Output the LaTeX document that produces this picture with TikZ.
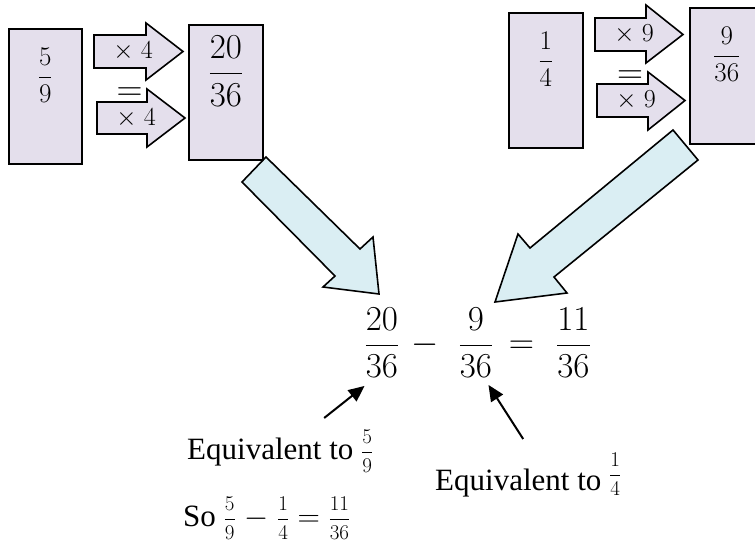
\RequirePackage{fix-cm}
\documentclass[tikz,border=0pt]{standalone}
\usepackage[no-math]{fontspec}
\setmainfont{Liberation Serif}
\usetikzlibrary{arrows.meta,calc}
\definecolor{boxfill}{HTML}{E4DFEC}
\definecolor{arrowfill}{HTML}{DAEEF3}
\newcommand{\smallfrac}[2]{\vcenter{\hbox{\fontsize{21}{22}\selectfont$\displaystyle\frac{#1}{#2}$}}}

\begin{document}
\begin{tikzpicture}[x=1pt, y=-1pt,
  fracbox/.style={rectangle, draw=black, fill=boxfill, line width=1.6pt, anchor=north west, inner sep=0pt, minimum width=74pt, minimum height=135pt},
  blockarrow/.style={draw=black, fill=boxfill, line width=1.6pt, line join=miter},
  bigarrow/.style={draw=black, fill=arrowfill, line width=1.6pt, line join=miter},
  boxfrac/.style={inner sep=0pt, font=\fontsize{27}{30}\selectfont},
  bigfrac/.style={inner sep=0pt, font=\fontsize{35}{40}\selectfont},
  timeslabel/.style={inner sep=0pt, font=\fontsize{26}{28}\selectfont},
  eqsign/.style={inner sep=0pt, font=\fontsize{36}{40}\selectfont},
  note/.style={inner sep=0pt, anchor=base west, font=\fontsize{31}{36}\selectfont},
  pointer/.style={-{Triangle[length=16pt,width=14pt]}, line width=2pt}
]
\useasboundingbox (0,0) rectangle (755,543);

% boxes with the fractions
\node[fracbox, minimum width=73pt] (b59) at (8,28) {};
\node[fracbox] (b2036) at (188,24) {};
\node[fracbox] (b14) at (508,12) {};
\node[fracbox, minimum height=136pt] (b936) at (689,7) {};

\node[boxfrac] (f59) at ($(b59.north)+(0,47)$) {$\displaystyle\frac{5}{9}$};
\node[bigfrac] (f2036b) at ($(b2036.north)+(0,47)$) {$\displaystyle\frac{20}{36}$};
\node[boxfrac] (f14) at ($(b14.north)+(0,47)$) {$\displaystyle\frac{1}{4}$};
\node[boxfrac] (f936b) at ($(b936.north)+(0,47)$) {$\displaystyle\frac{9}{36}$};

% equals signs between the small arrows
\node[eqsign] (eqL) at (129.5,94) {$=$};
\node[eqsign] (eqR) at (630,77) {$=$};

% small block arrows
\foreach \xs/\xh/\xt/\sa/\sb/\ha/\hb in {94/146/183/35/68/23/80, 97/147/185/102/134/89/147,
    595/646/683/18/51/5/63, 597/648/685/84/117/72/130}
  \draw[blockarrow] (\xs,\sa) -- (\xh,\sa) -- (\xh,\ha) -- (\xt,{(\sa+\sb)/2})
    -- (\xh,\hb) -- (\xh,\sb) -- (\xs,\sb) -- cycle;

\node[timeslabel] (mulA) at (133,51) {$\times\;4$};
\node[timeslabel] (mulB) at (136,118) {$\times\;4$};
\node[timeslabel] (mulC) at (634,34) {$\times\;9$};
\node[timeslabel] (mulD) at (636,100) {$\times\;9$};

% big arrows down to the sum
\draw[bigarrow] (266,157) -- (360,249) -- (373,237) -- (379,294) -- (323,287) -- (335,276) -- (242,182) -- cycle;
\draw[bigarrow] (673,130) -- (530,248) -- (518,234) -- (495,302) -- (567,293) -- (554,277) -- (698,160) -- cycle;

% the subtraction
\node[bigfrac] (f2036) at (382,342.6) {$\displaystyle\frac{20}{36}$};
\node[bigfrac] (minus) at (425.5,345) {$-$};
\node[bigfrac] (f936) at (476,342.6) {$\displaystyle\frac{9}{36}$};
\node[bigfrac] (eqS) at (521.5,347.3) {$=$};
\node[bigfrac] (f1136) at (573.5,342.6) {$\displaystyle\frac{11}{36}$};

% notes
\node[note] (eqv59) at (187,459) {Equivalent to $\smallfrac{5}{9}$};
\node[note] (eqv14) at (435,490) {Equivalent to \raisebox{8pt}{$\smallfrac{1}{4}$}};
\node[note] (so) at (183,526) {So $\medmuskip=\thickmuskip \smallfrac{5}{9} - \smallfrac{1}{4} = \smallfrac{11}{36}$};

\draw[pointer] ([xshift=44pt,yshift=12pt]eqv59.north) -- ([yshift=-8pt]f2036.south west);
\draw[pointer] ([xshift=-5pt,yshift=14pt]eqv14.north) -- ([xshift=-5pt,yshift=-7pt]f936.south east);
\end{tikzpicture}
\end{document}
